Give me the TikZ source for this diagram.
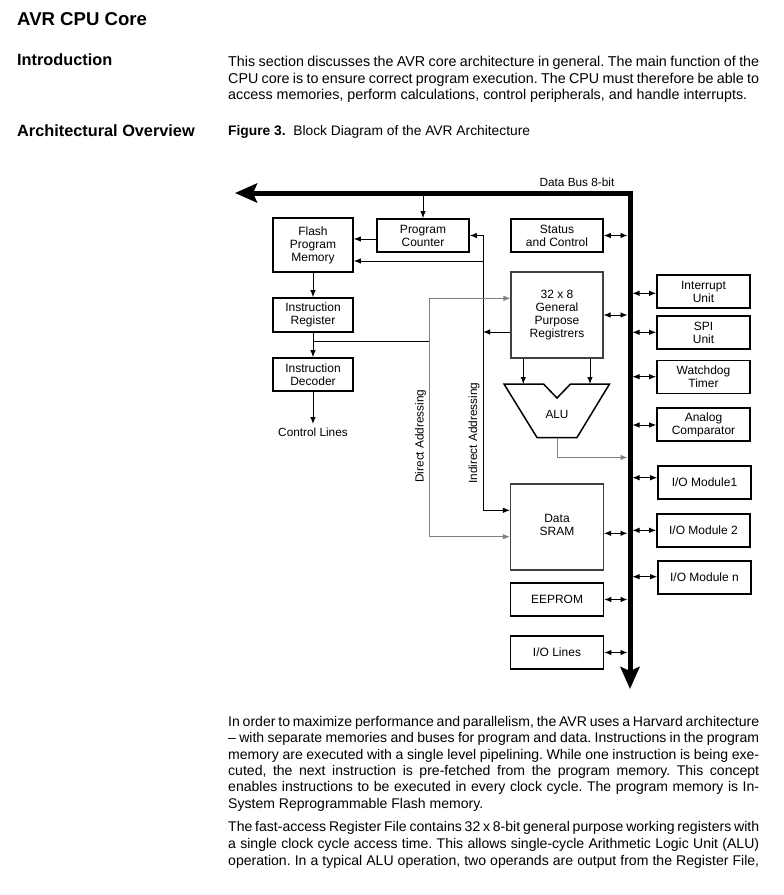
\documentclass[tikz,border=0pt]{standalone}
\usepackage{fontspec}
\setmainfont{Liberation Sans}
\usetikzlibrary{arrows.meta}
\frenchspacing
\newcommand{\jline}[1]{{\spaceskip=0.26em plus 0.6em minus 0.09em\relax\hbox to 531pt{#1}}}
\begin{document}
\begin{tikzpicture}[x=1pt,y=-1pt,
  box/.style={draw, line width=1.7pt, minimum width=92pt, minimum height=33pt, inner sep=0pt, align=center, font=\fontsize{12}{13}\selectfont},
  gbox/.style={box, line width=1.1pt, draw=black!75},
  lbl/.style={inner sep=1pt, font=\fontsize{11.8}{13}\selectfont},
  conn/.style={line width=0.9pt, -{Latex[length=7pt,width=5.5pt]}},
  gconn/.style={conn, draw=black!50},
  plain/.style={line width=0.9pt},
  dbl/.style={line width=0.9pt, {Latex[length=7pt,width=5.5pt]}-{Latex[length=7pt,width=5.5pt]}},
  bus/.style={line width=5pt, {Stealth[length=22pt,width=19pt,inset=4pt]}-{Stealth[length=22pt,width=19pt,inset=4pt]}},
  body/.style={anchor=base west, inner sep=0pt, font=\fontsize{14.3}{16.4}\selectfont},
  bodyb/.style={anchor=base west, inner sep=0pt, font=\fontsize{14.05}{16.4}\selectfont},
  head/.style={anchor=base west, inner sep=0pt, font=\fontsize{16.3}{18}\selectfont\bfseries}
]
\useasboundingbox (0,0) rectangle (784,895);
\fill[white] (0,0) rectangle (784,895);

% ---------- page text ----------
\node[anchor=base west, inner sep=0pt, font=\fontsize{18.6}{20}\selectfont\bfseries] (title) at (17,25) {AVR CPU Core};
\node[head] (intro) at (17,65.7) {Introduction};
\node[head] (arch) at (17,136.5) {Architectural Overview};

\node[body] (i1) at (228,66.7) {\jline{This section discusses the AVR core architecture in general. The main function of the}};
\node[body] (i2) at (228,83) {\jline{CPU core is to ensure correct program execution. The CPU must therefore be able to}};
\node[body] (i3) at (228,99.3) {access memories, perform calculations, control peripherals, and handle interrupts.};
\node[anchor=base west, inner sep=0pt, font=\fontsize{13.8}{16}\selectfont] (cap) at (228,135) {\textbf{Figure 3.}\ \ Block Diagram of the AVR Architecture};

\node[bodyb] (p1) at (228,726) {\jline{In order to maximize performance and parallelism, the AVR uses a Harvard architecture}};
\node[bodyb] (p2) at (228,742.5) {\jline{-- with separate memories and buses for program and data. Instructions in the program}};
\node[bodyb] (p3) at (228,759) {\jline{memory are executed with a single level pipelining. While one instruction is being exe-}};
\node[bodyb] (p4) at (228,775.4) {\jline{cuted, the next instruction is pre-fetched from the program memory. This concept}};
\node[bodyb] (p5) at (228,791.9) {\jline{enables instructions to be executed in every clock cycle. The program memory is In-}};
\node[bodyb] (p6) at (228,808.3) {System Reprogrammable Flash memory.};
\node[bodyb] (q1) at (228,831.7) {\jline{The fast-access Register File contains 32 x 8-bit general purpose working registers with}};
\node[bodyb] (q2) at (228,848.3) {\jline{a single clock cycle access time. This allows single-cycle Arithmetic Logic Unit (ALU)}};
\node[bodyb] (q3) at (228,865) {\jline{operation. In a typical ALU operation, two operands are output from the Register File,}};

% ---------- diagram boxes ----------
\node[box] (pc) at (423,235.5) {Program\\Counter};
\node[box, minimum width=80pt, minimum height=54pt] (fpm) at (313,245) {Flash\\Program\\Memory};
\node[box, minimum width=80pt, minimum height=34pt] (ir) at (313,315) {Instruction\\Register};
\node[box, minimum width=80pt] (id) at (313,374.5) {Instruction\\Decoder};
\node[lbl, anchor=north] (cl) at (313,427) {Control Lines};

\node[box] (sc) at (557,235.5) {Status\\and Control};
\node[gbox, minimum height=86pt] (gpr) at (557,315) {32 x 8\\General\\Purpose\\Registrers};
\node[gbox, minimum width=93pt, minimum height=86pt] (sram) at (557,527) {Data\\SRAM\\[-8pt]};
\node[box, minimum width=93pt] (eeprom) at (557,599.5) {EEPROM};
\node[box, minimum width=93pt] (iol) at (557,652.5) {I/O Lines};

\node[box, minimum width=93pt] (intr) at (703.5,291.5) {Interrupt\\Unit};
\node[box, minimum width=93pt] (spi) at (703.5,332.5) {SPI\\Unit};
\node[box, minimum width=93pt] (wdt) at (703.5,377) {Watchdog\\Timer};
\node[box, minimum width=93pt] (ac) at (703.5,424.5) {Analog\\Comparator};
\node[box, minimum width=93pt] (io1) at (704.5,482.5) {I/O Module1};
\node[box, minimum width=93pt] (io2) at (703.5,530.5) {I/O Module 2};
\node[box, minimum width=93pt] (ion) at (704.5,577.5) {I/O Module n};

% ALU
\draw[line width=1.5pt, line join=miter] (504,384) -- (543.5,384) -- (557,398) -- (570.5,384) -- (609.5,384) -- (577,437.5) -- (537,437.5) -- cycle;
\node[lbl] (alu) at (557,414) {ALU};

% ---------- data bus ----------
\coordinate (bw) at (235,193);
\coordinate (bc) at (630,193);
\coordinate (bs) at (630,689);
\coordinate (busL) at (627.5,193);
\coordinate (busR) at (632.5,193);
\draw[bus] (bw) -- (bc) -- (bs);
\node[lbl] (dbus) at (577,182) {Data Bus 8-bit};

% ---------- connectors ----------
\draw[conn] (pc.north |- bc) -- (pc.north);
\coordinate (pcfpm) at (0,239);
\draw[conn] (pc.west |- pcfpm) -- (fpm.east |- pcfpm);
\draw[conn] (fpm.south) -- (ir.north);
\draw[conn] (ir.south) -- (id.north);
\draw[conn] (id.south) -- ([yshift=3pt]cl.north);

% indirect addressing
\coordinate (indtop) at (483,235.5);
\coordinate (indfpm) at (483,261);
\coordinate (indgpr) at (483,332);
\coordinate (indsram) at (483,510.3);
\draw[conn] (indsram) -- (indtop) -- (indtop -| pc.east);
\draw[conn] (indfpm) -- (indfpm -| fpm.east);
\draw[conn] (indgpr -| gpr.west) -- (indgpr);
\draw[conn] (indsram) -- (indsram -| sram.west);
\node[lbl, rotate=90] (indlbl) at (474,433) {Indirect Addressing};

% direct addressing
\coordinate (dtop) at (429,298.3);
\coordinate (dir) at (429,341.5);
\coordinate (dbot) at (429,536.7);
\draw[plain] (ir.south |- dir) -- (dir);
\draw[gconn] (dbot) -- (dtop) -- (dtop -| gpr.west);
\draw[gconn] (dir) -- (dbot) -- (dbot -| sram.west);
\node[lbl, rotate=90] (dirlbl) at (420.5,436) {Direct Addressing};

% register file to ALU
\coordinate (aluL) at (523.3,384);
\coordinate (aluR) at (590,384);
\draw[conn] (gpr.south -| aluL) -- (aluL);
\draw[conn] (gpr.south -| aluR) -- (aluR);
\coordinate (aluout) at (557,437.5);
\coordinate (alubus) at (557,457.5);
\draw[gconn] (aluout) -- (alubus) -- (alubus -| busL);

% bus links, left side
\draw[dbl] (sc.east) -- (sc.east -| busL);
\draw[dbl] (gpr.east) -- (gpr.east -| busL);
\coordinate (ysram) at (0,533.3);
\draw[dbl] (sram.east |- ysram) -- (busL |- ysram);
\draw[dbl] (eeprom.east) -- (eeprom.east -| busL);
\draw[dbl] (iol.east) -- (iol.east -| busL);

% bus links, right side
\coordinate (yintr) at (0,293.3);
\coordinate (yspi) at (0,332.3);
\coordinate (ywdt) at (0,376.7);
\coordinate (yac) at (0,425);
\coordinate (yio1) at (0,477.7);
\coordinate (yio2) at (0,530.3);
\coordinate (yion) at (0,576.7);
\draw[dbl] (busR |- yintr) -- (intr.west |- yintr);
\draw[dbl] (busR |- yspi) -- (spi.west |- yspi);
\draw[dbl] (busR |- ywdt) -- (wdt.west |- ywdt);
\draw[dbl] (busR |- yac) -- (ac.west |- yac);
\draw[dbl] (busR |- yio1) -- (io1.west |- yio1);
\draw[dbl] (busR |- yio2) -- (io2.west |- yio2);
\draw[dbl] (busR |- yion) -- (ion.west |- yion);
\end{tikzpicture}
\end{document}
